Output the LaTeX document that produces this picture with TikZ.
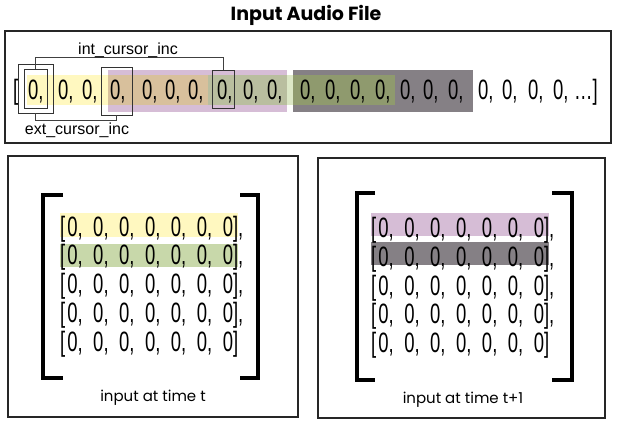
\documentclass[tikz,border=0pt]{standalone}
\usepackage{fontspec}
\setmainfont{Liberation Sans}
\newfontfamily\zerofont[FakeStretch=0.66]{Liberation Sans}
\newfontfamily\headfont{Poppins}

\definecolor{hlYellow}{HTML}{FFF8C0}
\definecolor{hlPurple}{HTML}{D6BDD6}
\definecolor{hlGreen}{HTML}{C8D8AA}
\definecolor{hlPale}{HTML}{DCE7C6}
\definecolor{hlGray}{HTML}{858085}
\definecolor{hlTan}{HTML}{D8C09C}
\definecolor{hlSage}{HTML}{B9BE9F}
\definecolor{hlOlive}{HTML}{8F9A6E}

% eine Zeile der Eingabematrix
\newcommand\zrow{\spaceskip=10.5pt\relax [\kern2pt 0, 0, 0, 0, 0, 0, 0]}

\begin{document}
\begin{tikzpicture}[x=1pt, y=-1pt,
  panel/.style={draw=black!85, line width=1.3pt},
  cursorbox/.style={draw=black!80, line width=0.8pt, inner sep=0pt},
  cursorline/.style={draw=black!75, line width=0.8pt},
  zeros/.style={font=\zerofont\fontsize{28}{30}\selectfont, anchor=base west, inner sep=0pt},
  bigbracket/.style={line width=3.5pt},
  caption/.style={font=\headfont\fontsize{15}{18}\selectfont},
  cursorlabel/.style={font=\fontsize{16}{18}\selectfont}]

  \useasboundingbox (0,0) rectangle (617,423);

  % Titel
  \node[font=\headfont\bfseries\fontsize{19}{22}\selectfont] (title) at (306,15) {Input Audio File};

  % Rahmen
  \draw[panel] (5,31) rectangle (611,143);
  \draw[panel] (8,156) rectangle (298,417);
  \draw[panel] (318,158) rectangle (605,418);

  % Fenster im Audiostrom (Überlappungen getrennt gefüllt)
  \fill[hlYellow] (27,75) rectangle (108,105);
  \fill[hlPurple] (108,70) rectangle (287,112);
  \fill[hlTan] (108,75) rectangle (208,105);
  \fill[hlSage] (208,75) rectangle (287,105);
  \fill[hlPale] (287,75) rectangle (293,105);
  \fill[hlGray] (293,70) rectangle (473,112);
  \fill[hlOlive] (293,75) rectangle (395,105);

  % Audiostrom
  \node[zeros] (open) at (13,99) {[};
  \foreach \x [count=\k] in {28,58,82,110,142,165,188,217,243,267,300,325,350,375,400,423,448,478,502,528,553}
    \node[zeros] (z\k) at (\x,99) {0,};
  \node[zeros] (tail) at (574,99) {…]};

  % Cursor
  \node[cursorbox, minimum width=35, minimum height=49] (extA) at (35.5,88.5) {};
  \node[cursorbox, minimum width=23, minimum height=39] (intA) at (35.5,88.5) {};
  \node[cursorbox, minimum width=31, minimum height=48] (extB) at (116.5,91) {};
  \node[cursorbox, minimum width=22, minimum height=38] (intB) at (223,89) {};
  \draw[cursorline] (intA.north) -- ++(0,-11) -| (intB.north);
  \draw[cursorline] (extA.south) -- ++(0,7) -| (extB.south);
  \node[cursorlabel] (intlabel) at (128,50) {int\_cursor\_inc};
  \node[cursorlabel] (extlabel) at (77,130) {ext\_cursor\_inc};

  % Matrix zur Zeit t
  \fill[hlYellow] (60,213) rectangle (238,237);
  \fill[hlGreen] (60,244) rectangle (238,267);
  \foreach \k in {0,1,2,3}
    \node[zeros] (left\k) at (60,{236+28.75*\k}) {\zrow,};
  \node[zeros] (left4) at (60,351) {\zrow};
  \draw[bigbracket] (63,195) -| (43,378) -- (63,378);
  \draw[bigbracket] (240,195) -| (258,378) -- (240,378);
  \node[caption] (capleft) at (153,398) {input at time t};

  % Matrix zur Zeit t+1
  \fill[hlPurple] (371,213) rectangle (549,236);
  \fill[hlGray] (371,242) rectangle (549,265);
  \foreach \k in {0,1,2,3}
    \node[zeros] (right\k) at (371,{237.5+28.75*\k}) {\zrow,};
  \node[zeros] (right4) at (371,352.5) {\zrow};
  \draw[bigbracket] (375,193) -| (357,380) -- (375,380);
  \draw[bigbracket] (552,193) -| (572,380) -- (552,380);
  \node[caption] (capright) at (463,400) {input at time t+1};

\end{tikzpicture}
\end{document}
